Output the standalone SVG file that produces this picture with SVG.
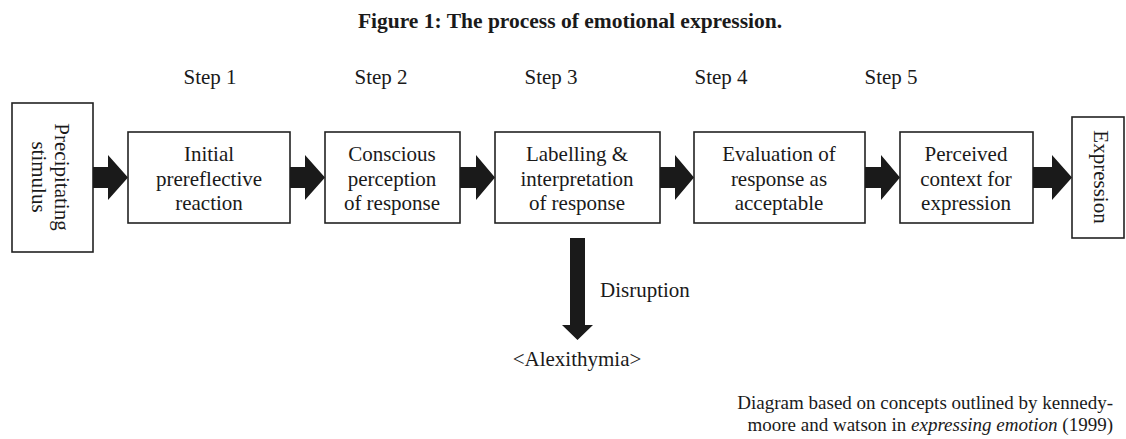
<svg xmlns="http://www.w3.org/2000/svg" width="1126" height="439" viewBox="0 0 1126 439">
<style>
.box{fill:#fff;stroke:#222;stroke-width:1.6}
.t{font-family:"Liberation Serif","Times New Roman",serif;font-size:21px;fill:#1a1a1a;text-anchor:middle}
.s{font-family:"Liberation Serif","Times New Roman",serif;font-size:21px;fill:#1a1a1a}
.arr{fill:#1a1a1a}
</style>
<rect width="1126" height="439" fill="#fff"/>
<text x="570" y="28" font-family="Liberation Serif, serif" font-size="21.5" font-weight="bold" fill="#1a1a1a" text-anchor="middle">Figure 1: The process of emotional expression.</text>
<g id="steps">
<text class="s" x="210" y="84" text-anchor="middle">Step 1</text>
<text class="s" x="381" y="84" text-anchor="middle">Step 2</text>
<text class="s" x="551" y="84" text-anchor="middle">Step 3</text>
<text class="s" x="721" y="84" text-anchor="middle">Step 4</text>
<text class="s" x="891" y="84" text-anchor="middle">Step 5</text>
</g>
<g id="stimulus">
<rect class="box" x="12" y="103" width="81" height="149"/>
<text class="t" transform="translate(55,177) rotate(90)">Precipitating</text>
<text class="t" transform="translate(32,177) rotate(90)">stimulus</text>
</g>
<g id="step1">
<rect class="box" x="128" y="132" width="162" height="91"/>
<text class="t" x="209" y="161">Initial</text>
<text class="t" x="209" y="185.5">prereflective</text>
<text class="t" x="209" y="210">reaction</text>
</g>
<g id="step2">
<rect class="box" x="325" y="132" width="135" height="91"/>
<text class="t" x="392" y="161">Conscious</text>
<text class="t" x="392" y="185.5">perception</text>
<text class="t" x="392" y="210">of response</text>
</g>
<g id="step3">
<rect class="box" x="495" y="132" width="165" height="91"/>
<text class="t" x="577" y="161">Labelling &amp;</text>
<text class="t" x="577" y="185.5">interpretation</text>
<text class="t" x="577" y="210">of response</text>
</g>
<g id="step4">
<rect class="box" x="694" y="132" width="171" height="91"/>
<text class="t" x="779" y="161">Evaluation of</text>
<text class="t" x="779" y="185.5">response as</text>
<text class="t" x="779" y="210">acceptable</text>
</g>
<g id="step5">
<rect class="box" x="900" y="132" width="133" height="91"/>
<text class="t" x="966" y="161">Perceived</text>
<text class="t" x="966" y="185.5">context for</text>
<text class="t" x="966" y="210">expression</text>
</g>
<g id="expression">
<rect class="box" x="1072" y="117" width="52" height="121"/>
<text class="t" transform="translate(1094,177) rotate(90)">Expression</text>
</g>
<g id="alexithymia">
<text class="s" x="577" y="366" text-anchor="middle">&lt;Alexithymia&gt;</text>
</g>
<g id="connectors">
<polygon class="arr" points="93,167 108,167 108,155 128,177.5 108,200 108,188 93,188"/>
<polygon class="arr" points="290,167 305,167 305,155 325,177.5 305,200 305,188 290,188"/>
<polygon class="arr" points="460,167 476,167 476,155 495,177.5 476,200 476,188 460,188"/>
<polygon class="arr" points="660,167 675,167 675,155 694,177.5 675,200 675,188 660,188"/>
<polygon class="arr" points="865,167 881,167 881,155 900,177.5 881,200 881,188 865,188"/>
<polygon class="arr" points="1033,167 1052,167 1052,155 1072,177.5 1052,200 1052,188 1033,188"/>
<polygon class="arr" points="570,238 585,238 585,325 593,325 577.5,340 562,325 570,325"/>
<text class="s" x="600" y="297">Disruption</text>
</g>
<g id="note">
<text class="s" x="1113" y="409" text-anchor="end" style="font-size:19px">Diagram based on concepts outlined by kennedy-</text>
<text class="s" x="1113" y="431" text-anchor="end" style="font-size:19px">moore and watson in <tspan font-style="italic">expressing emotion</tspan> (1999)</text>
</g>
</svg>
